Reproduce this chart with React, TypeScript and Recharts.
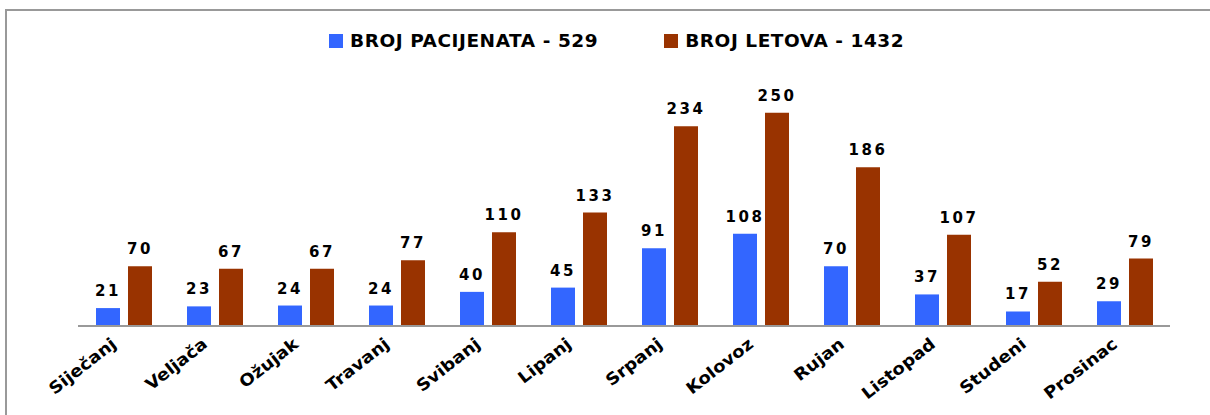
import React from "react";
import { BarChart, Bar, XAxis, YAxis, LabelList } from "recharts";

const months = ["Siječanj", "Veljača", "Ožujak", "Travanj", "Svibanj", "Lipanj", "Srpanj", "Kolovoz", "Rujan", "Listopad", "Studeni", "Prosinac"];
const patients = [21, 23, 24, 24, 40, 45, 91, 108, 70, 37, 17, 29];
const flights = [70, 67, 67, 77, 110, 133, 234, 250, 186, 107, 52, 79];
const seriesNames = ["BROJ PACIJENATA - 529", "BROJ LETOVA - 1432"];
const seriesColors = ["#3366FF", "#993300"];

const data = months.map((m, i) => ({ month: m, patients: patients[i], flights: flights[i] }));

const FONT = "'DejaVu Sans', Verdana, sans-serif";

const MonthTick = (props: any) => {
  const { x, y, payload } = props;
  return (
    <g transform={`translate(${x - 6},${y + 12})`}>
      <text
        textAnchor="end"
        transform="rotate(-38) scale(1.1,1)"
        fontFamily={FONT}
        fontWeight="bold"
        fontSize={16.5}
        fill="#000"
      >
        {payload.value}
      </text>
    </g>
  );
};

const labelStyle = { fontFamily: FONT, fontWeight: "bold", fontSize: 15, letterSpacing: 2.5, fill: "#000" } as any;

export default function App() {
  return (
    <div style={{ position: "fixed", left: 0, top: 0, width: 1210, height: 415, overflow: "hidden", background: "#fff" }}>
      <div style={{ position: "absolute", left: 5, top: 9, width: 1205, height: 2, background: "#999" }} />
      <div style={{ position: "absolute", left: 5, top: 9, width: 2, height: 406, background: "#999" }} />
      <div
        style={{
          position: "absolute",
          left: 329,
          top: 30,
          display: "flex",
          alignItems: "center",
          gap: 66,
          fontFamily: FONT,
          fontWeight: "bold",
          fontSize: 18.5,
          color: "#000",
          whiteSpace: "nowrap",
        }}
      >
        {seriesNames.map((n, i) => (
          <div key={n} style={{ display: "flex", alignItems: "center" }}>
            <span style={{ display: "inline-block", width: 14, height: 14, background: seriesColors[i], marginRight: 7 }} />
            <span style={{ letterSpacing: 0.55 }}>{n}</span>
          </div>
        ))}
      </div>
      <div style={{ position: "absolute", left: 0, top: 0 }}>
        <BarChart
          width={1210}
          height={415}
          data={data}
          margin={{ top: 70, right: 40, bottom: 0, left: 78 }}
          barGap={8}
        >
          <XAxis
            dataKey="month"
            axisLine={{ stroke: "#999", strokeWidth: 2 }}
            tickLine={false}
            tick={<MonthTick />}
            interval={0}
            height={89}
          />
          <YAxis hide domain={[0, 300]} />
          <Bar dataKey="patients" fill={seriesColors[0]} barSize={24} isAnimationActive={false}>
            <LabelList dataKey="patients" position="top" offset={12} style={labelStyle} />
          </Bar>
          <Bar dataKey="flights" fill={seriesColors[1]} barSize={24} isAnimationActive={false}>
            <LabelList dataKey="flights" position="top" offset={12} style={labelStyle} />
          </Bar>
        </BarChart>
      </div>
    </div>
  );
}
